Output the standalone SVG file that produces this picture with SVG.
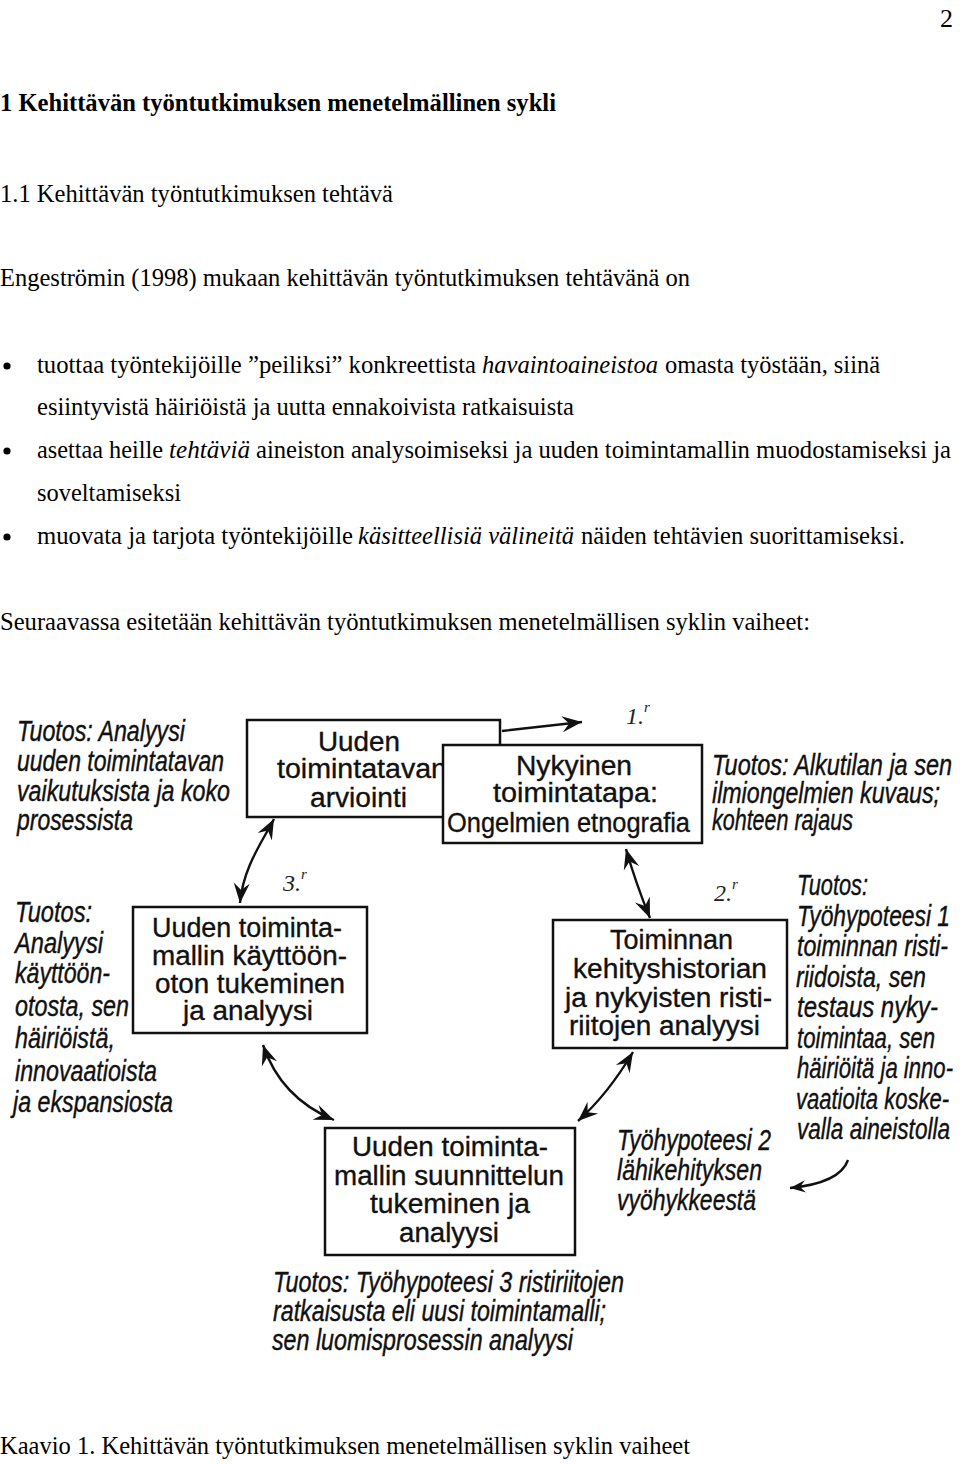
<svg xmlns="http://www.w3.org/2000/svg" width="960" height="1464" viewBox="0 0 960 1464">
<style>
.t{font-family:"Liberation Serif","Times New Roman",serif;font-size:26px;fill:#000}
.ti{font-family:"Liberation Serif","Times New Roman",serif;font-size:26px;font-style:italic;fill:#000}
.tb{font-family:"Liberation Serif","Times New Roman",serif;font-size:26px;font-weight:bold;fill:#000}
.bx{font-family:"Liberation Sans",Arial,sans-serif;font-size:27px;fill:#111;stroke:#111;stroke-width:0.35}
.it{font-family:"Liberation Sans Narrow","Arial Narrow","Liberation Sans",Arial,sans-serif;font-size:29px;font-style:italic;fill:#111;stroke:#111;stroke-width:0.4}
.hw{font-family:"Liberation Serif","Times New Roman",serif;font-size:24px;font-style:italic;fill:#222}
.box{fill:#fff;stroke:#111;stroke-width:2.5}
.con{fill:none;stroke:#111;stroke-width:2.4}
</style>
<defs>
<marker id="ah" viewBox="-20 -9 20 18" refX="0" refY="0" markerWidth="20" markerHeight="18" markerUnits="userSpaceOnUse" orient="auto-start-reverse">
<path d="M0,0 L-20,-8 L-13,0 L-20,8 Z" fill="#111"/>
</marker>
<marker id="ahs" viewBox="-20 -9 20 18" refX="0" refY="0" markerWidth="16" markerHeight="14" markerUnits="userSpaceOnUse" orient="auto-start-reverse">
<path d="M0,0 L-20,-8 L-13,0 L-20,8 Z" fill="#111"/>
</marker>
</defs>
<rect width="960" height="1464" fill="#fff"/>

<g id="page-text">
<text class="t" x="940" y="27">2</text>
<text class="tb" x="0" y="111" textLength="556" lengthAdjust="spacingAndGlyphs">1 Kehittävän työntutkimuksen menetelmällinen sykli</text>
<text class="t" x="0" y="202" textLength="393" lengthAdjust="spacingAndGlyphs">1.1 Kehittävän työntutkimuksen tehtävä</text>
<text class="t" x="0" y="286" textLength="690" lengthAdjust="spacingAndGlyphs">Engeströmin (1998) mukaan kehittävän työntutkimuksen tehtävänä on</text>

<circle cx="7" cy="366" r="3.6" fill="#000"/>
<text class="t" x="37" y="373" textLength="439" lengthAdjust="spacingAndGlyphs">tuottaa työntekijöille ”peiliksi” konkreettista</text>
<text class="ti" x="482" y="373" textLength="176" lengthAdjust="spacingAndGlyphs">havaintoaineistoa</text>
<text class="t" x="665" y="373" textLength="215" lengthAdjust="spacingAndGlyphs">omasta työstään, siinä</text>
<text class="t" x="37" y="415" textLength="537" lengthAdjust="spacingAndGlyphs">esiintyvistä häiriöistä ja uutta ennakoivista ratkaisuista</text>

<circle cx="7" cy="451" r="3.6" fill="#000"/>
<text class="t" x="37" y="458" textLength="126" lengthAdjust="spacingAndGlyphs">asettaa heille</text>
<text class="ti" x="169" y="458" textLength="81" lengthAdjust="spacingAndGlyphs">tehtäviä</text>
<text class="t" x="256" y="458" textLength="695" lengthAdjust="spacingAndGlyphs">aineiston analysoimiseksi ja uuden toimintamallin muodostamiseksi ja</text>
<text class="t" x="37" y="501" textLength="144" lengthAdjust="spacingAndGlyphs">soveltamiseksi</text>

<circle cx="7" cy="537" r="3.6" fill="#000"/>
<text class="t" x="37" y="544" textLength="316" lengthAdjust="spacingAndGlyphs">muovata ja tarjota työntekijöille</text>
<text class="ti" x="358" y="544" textLength="216" lengthAdjust="spacingAndGlyphs">käsitteellisiä välineitä</text>
<text class="t" x="581" y="544" textLength="324" lengthAdjust="spacingAndGlyphs">näiden tehtävien suorittamiseksi.</text>

<text class="t" x="0" y="630" textLength="810" lengthAdjust="spacingAndGlyphs">Seuraavassa esitetään kehittävän työntutkimuksen menetelmällisen syklin vaiheet:</text>
<text class="t" x="0" y="1454" textLength="690" lengthAdjust="spacingAndGlyphs">Kaavio 1. Kehittävän työntutkimuksen menetelmällisen syklin vaiheet</text>
</g>

<g id="connectors">
<path class="con" d="M502 731 L582 722" marker-end="url(#ah)"/>
<path class="con" d="M274 819 C262 842 243 868 240 903" marker-start="url(#ah)" marker-end="url(#ah)"/>
<path class="con" d="M626 849 Q636 884 650 918" marker-start="url(#ah)" marker-end="url(#ah)"/>
<path class="con" d="M633 1052 Q608 1094 578 1121" marker-start="url(#ah)" marker-end="url(#ah)"/>
<path class="con" d="M263 1045 Q281 1098 334 1120" marker-start="url(#ah)" marker-end="url(#ah)"/>
<path class="con" d="M848 1160 Q840 1183 790 1188" marker-end="url(#ahs)"/>
</g>

<g id="n-arviointi">
<rect class="box" x="247" y="720" width="253" height="97"/>
<text class="bx" x="318" y="751" font-size="28" textLength="82" lengthAdjust="spacingAndGlyphs">Uuden</text>
<text class="bx" x="277" y="778" font-size="28" textLength="170" lengthAdjust="spacingAndGlyphs">toimintatavan</text>
<text class="bx" x="310" y="807" font-size="28" textLength="97" lengthAdjust="spacingAndGlyphs">arviointi</text>
</g>

<g id="n-nykyinen">
<rect class="box" x="443" y="745" width="259" height="98"/>
<text class="bx" x="516" y="775" font-size="28" textLength="116" lengthAdjust="spacingAndGlyphs">Nykyinen</text>
<text class="bx" x="493" y="802" font-size="28" textLength="165" lengthAdjust="spacingAndGlyphs">toimintatapa:</text>
<text class="bx" x="447" y="832" font-size="25.5" textLength="243" lengthAdjust="spacingAndGlyphs">Ongelmien etnografia</text>
</g>

<g id="n-tuotos-arviointi">
<text class="it" x="17" y="741" textLength="168" lengthAdjust="spacingAndGlyphs">Tuotos: Analyysi</text>
<text class="it" x="17" y="771" textLength="207" lengthAdjust="spacingAndGlyphs">uuden toimintatavan</text>
<text class="it" x="17" y="801" textLength="213" lengthAdjust="spacingAndGlyphs">vaikutuksista ja koko</text>
<text class="it" x="17" y="830" textLength="116" lengthAdjust="spacingAndGlyphs">prosessista</text>
</g>

<g id="n-tuotos-nykyinen">
<text class="it" x="712" y="775" textLength="240" lengthAdjust="spacingAndGlyphs">Tuotos: Alkutilan ja sen</text>
<text class="it" x="712" y="803" textLength="228" lengthAdjust="spacingAndGlyphs">ilmiongelmien kuvaus;</text>
<text class="it" x="712" y="830" textLength="141" lengthAdjust="spacingAndGlyphs">kohteen rajaus</text>
</g>

<g id="n-tuotos-kayttoonotto">
<text class="it" x="15" y="922" textLength="77" lengthAdjust="spacingAndGlyphs">Tuotos:</text>
<text class="it" x="15" y="953" textLength="88" lengthAdjust="spacingAndGlyphs">Analyysi</text>
<text class="it" x="15" y="983" textLength="95" lengthAdjust="spacingAndGlyphs">käyttöön-</text>
<text class="it" x="15" y="1016" textLength="114" lengthAdjust="spacingAndGlyphs">otosta, sen</text>
<text class="it" x="15" y="1048" textLength="100" lengthAdjust="spacingAndGlyphs">häiriöistä,</text>
<text class="it" x="15" y="1081" textLength="142" lengthAdjust="spacingAndGlyphs">innovaatioista</text>
<text class="it" x="13" y="1112" textLength="160" lengthAdjust="spacingAndGlyphs">ja ekspansiosta</text>
</g>

<g id="n-kayttoonotto">
<rect class="box" x="133" y="907" width="234" height="126"/>
<text class="bx" x="152" y="937" textLength="190" lengthAdjust="spacingAndGlyphs">Uuden toiminta-</text>
<text class="bx" x="152" y="965" textLength="195" lengthAdjust="spacingAndGlyphs">mallin käyttöön-</text>
<text class="bx" x="155" y="993" textLength="190" lengthAdjust="spacingAndGlyphs">oton tukeminen</text>
<text class="bx" x="183" y="1020" textLength="130" lengthAdjust="spacingAndGlyphs">ja analyysi</text>
</g>

<g id="n-toiminnan">
<rect class="box" x="553" y="920" width="234" height="128"/>
<text class="bx" x="610" y="949" textLength="123" lengthAdjust="spacingAndGlyphs">Toiminnan</text>
<text class="bx" x="573" y="978" textLength="194" lengthAdjust="spacingAndGlyphs">kehityshistorian</text>
<text class="bx" x="565" y="1007" textLength="207" lengthAdjust="spacingAndGlyphs">ja nykyisten risti-</text>
<text class="bx" x="569" y="1035" textLength="191" lengthAdjust="spacingAndGlyphs">riitojen analyysi</text>
</g>

<g id="n-tuotos-toiminnan">
<text class="it" x="797" y="895" textLength="71" lengthAdjust="spacingAndGlyphs">Tuotos:</text>
<text class="it" x="797" y="925.5" textLength="153" lengthAdjust="spacingAndGlyphs">Työhypoteesi 1</text>
<text class="it" x="797" y="956" textLength="151" lengthAdjust="spacingAndGlyphs">toiminnan risti-</text>
<text class="it" x="796" y="986.5" textLength="130" lengthAdjust="spacingAndGlyphs">riidoista, sen</text>
<text class="it" x="797" y="1017" textLength="141" lengthAdjust="spacingAndGlyphs">testaus nyky-</text>
<text class="it" x="797" y="1047.5" textLength="138" lengthAdjust="spacingAndGlyphs">toimintaa, sen</text>
<text class="it" x="797" y="1078" textLength="156" lengthAdjust="spacingAndGlyphs">häiriöitä ja inno-</text>
<text class="it" x="796" y="1108.5" textLength="153" lengthAdjust="spacingAndGlyphs">vaatioita koske-</text>
<text class="it" x="797" y="1139" textLength="153" lengthAdjust="spacingAndGlyphs">valla aineistolla</text>
</g>

<g id="n-suunnittelu">
<rect class="box" x="325" y="1128" width="250" height="127"/>
<text class="bx" x="352" y="1156" textLength="196" lengthAdjust="spacingAndGlyphs">Uuden toiminta-</text>
<text class="bx" x="334" y="1185" textLength="230" lengthAdjust="spacingAndGlyphs">mallin suunnittelun</text>
<text class="bx" x="370" y="1213" textLength="160" lengthAdjust="spacingAndGlyphs">tukeminen ja</text>
<text class="bx" x="399" y="1242" textLength="100" lengthAdjust="spacingAndGlyphs">analyysi</text>
</g>

<g id="n-tyohypoteesi2">
<text class="it" x="617" y="1150" textLength="154" lengthAdjust="spacingAndGlyphs">Työhypoteesi 2</text>
<text class="it" x="617" y="1180" textLength="145" lengthAdjust="spacingAndGlyphs">lähikehityksen</text>
<text class="it" x="617" y="1210" textLength="139" lengthAdjust="spacingAndGlyphs">vyöhykkeestä</text>
</g>

<g id="n-tuotos-suunnittelu">
<text class="it" x="273" y="1292" textLength="351" lengthAdjust="spacingAndGlyphs">Tuotos: Työhypoteesi 3 ristiriitojen</text>
<text class="it" x="273" y="1321" textLength="333" lengthAdjust="spacingAndGlyphs">ratkaisusta eli uusi toimintamalli;</text>
<text class="it" x="272" y="1350" textLength="301" lengthAdjust="spacingAndGlyphs">sen luomisprosessin analyysi</text>
</g>

<g id="annotations">
<text class="hw" x="626" y="724">1.<tspan dy="-12" font-size="15">r</tspan></text>
<text class="hw" x="283" y="891">3.<tspan dy="-12" font-size="15">r</tspan></text>
<text class="hw" x="714" y="901">2.<tspan dy="-12" font-size="15">r</tspan></text>
</g>
</svg>
